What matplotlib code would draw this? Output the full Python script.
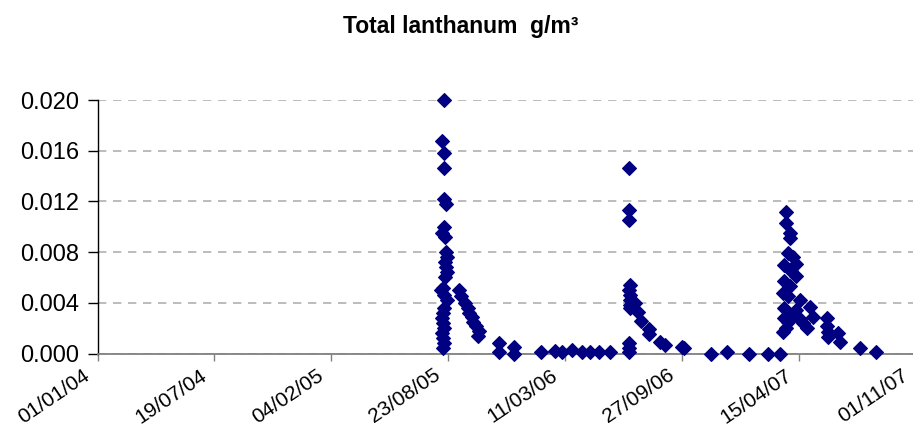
import numpy as np
import pandas as pd
import matplotlib
matplotlib.use('Agg')
import matplotlib.pyplot as plt
import matplotlib.dates as mdates
from matplotlib.transforms import ScaledTranslation, blended_transform_factory

plt.rcParams['font.family'] = ['Liberation Sans', 'DejaVu Sans']

# sample dates and total lanthanum (g/m3)
dates = [
    # first event, aug-oct 2005
    '2005-08-16', '2005-08-13', '2005-08-16', '2005-08-16', '2005-08-16', '2005-08-19',
    '2005-08-16', '2005-08-13', '2005-08-17', '2005-08-19', '2005-08-21', '2005-08-17',
    '2005-08-19', '2005-08-21', '2005-08-17', '2005-08-14', '2005-08-11', '2005-08-16',
    '2005-08-21', '2005-08-16', '2005-08-14', '2005-08-13', '2005-08-14', '2005-08-16',
    '2005-08-13', '2005-08-14', '2005-08-16', '2005-08-14',
    '2005-09-11', '2005-09-14', '2005-09-21', '2005-09-25', '2005-09-28', '2005-10-02',
    '2005-10-05', '2005-10-10', '2005-10-14', '2005-10-12',
    '2005-11-18', '2005-11-18', '2005-12-14', '2005-12-14',
    # quiet period
    '2006-01-29', '2006-02-21', '2006-03-05', '2006-03-22', '2006-04-08', '2006-04-22',
    '2006-05-07', '2006-05-27',
    # second event, summer 2006
    '2006-06-28', '2006-06-28', '2006-06-28', '2006-06-29', '2006-06-28', '2006-06-29',
    '2006-06-30', '2006-06-29', '2006-06-30', '2006-07-08', '2006-07-13', '2006-07-19',
    '2006-08-02', '2006-08-02', '2006-08-20', '2006-08-28', '2006-09-26', '2006-10-01',
    '2006-06-28', '2006-06-28', '2006-06-28',
    '2006-11-16', '2006-12-13', '2007-01-20', '2007-02-21', '2007-03-14',
    # third event, spring 2007
    '2007-03-24', '2007-03-24', '2007-03-30', '2007-03-30', '2007-03-27', '2007-04-04',
    '2007-03-21', '2007-04-10', '2007-04-02', '2007-04-10', '2007-03-21', '2007-03-30',
    '2007-03-18', '2007-03-27', '2007-04-16', '2007-05-03', '2007-03-21', '2007-04-10',
    '2007-05-08', '2007-03-21', '2007-04-21', '2007-03-24', '2007-04-28', '2007-03-18',
    '2007-04-04', '2007-04-16', '2007-03-27',
    '2007-06-01', '2007-06-01', '2007-06-03', '2007-06-03', '2007-06-20', '2007-06-24',
    '2007-07-28', '2007-08-25',
]
la_values = [
    0.0200, 0.0168, 0.0158, 0.0146, 0.0122, 0.0118,
    0.0100, 0.0095, 0.0092, 0.0080, 0.0076, 0.0072,
    0.0068, 0.0064, 0.0060, 0.0052, 0.0050, 0.0046,
    0.0042, 0.0036, 0.0032, 0.0028, 0.0024, 0.0020,
    0.0016, 0.0012, 0.0008, 0.0004,
    0.0050, 0.0045, 0.0040, 0.0036, 0.0032, 0.0029,
    0.0025, 0.0022, 0.0018, 0.0014,
    0.0008, 0.0001, 0.0005, 0.0000,
    0.0001, 0.0002, 0.0001, 0.0003, 0.0001, 0.0001,
    0.0001, 0.0001,
    0.0146, 0.0113, 0.0105, 0.0054, 0.0050, 0.0046,
    0.0042, 0.0038, 0.0036, 0.0040, 0.0033, 0.0026,
    0.0019, 0.0015, 0.0009, 0.0007, 0.0005, 0.0004,
    0.0008, 0.0004, 0.0001,
    0.0000, 0.0001, 0.0000, 0.0000, 0.0000,
    0.0112, 0.0103, 0.0095, 0.0091, 0.0079, 0.0076,
    0.0070, 0.0071, 0.0065, 0.0061, 0.0057, 0.0053,
    0.0048, 0.0045, 0.0042, 0.0037, 0.0036, 0.0034,
    0.0029, 0.0028, 0.0024, 0.0020, 0.0020, 0.0017,
    0.0031, 0.0027, 0.0025,
    0.0028, 0.0022, 0.0017, 0.0013, 0.0016, 0.0009,
    0.0004, 0.0001,
]

x_start = '2004-01-01'
x_step_days = 200
n_steps = 7
y_ticks = [0.000, 0.004, 0.008, 0.012, 0.016, 0.020]

df = pd.DataFrame({'date': pd.to_datetime(dates), 'la': la_values})

fig = plt.figure(figsize=(9.13, 4.36), dpi=100)
# plot area runs a little past the right edge of the picture, like the original
ax = fig.add_axes([0.1068, 0.1892, 0.8965, 0.5814])

ax.plot(df['date'], df['la'], linestyle='none', marker='D', markersize=7,
        color='#000080', markeredgecolor='#000080', markeredgewidth=0.8,
        zorder=3, clip_on=False)

t0 = mdates.date2num(pd.Timestamp(x_start))
xt = t0 + np.arange(n_steps + 1) * x_step_days
ax.set_xlim(xt[0], xt[-1])
ax.set_xticks(xt)
ax.tick_params(axis='x', labelbottom=False)

# date labels drawn by hand so they can sit a bit left of their ticks
fmt = mdates.DateFormatter('%d/%m/%y')
trans = blended_transform_factory(ax.transData, ax.transAxes) + \
    ScaledTranslation(-15 / 100, -12 / 100, fig.dpi_scale_trans)
for t in xt:
    ax.text(t, 0, fmt(t), transform=trans, rotation=34, ha='right', va='top',
            rotation_mode='anchor', fontsize=15, clip_on=False)

ax.set_ylim(0, 0.020)
ax.set_yticks(y_ticks)
ax.set_yticklabels([f'{v:.3f}' for v in y_ticks], fontsize=17)

ax.yaxis.grid(True, color='#b0b0b0', linestyle=(0, (5, 4)), linewidth=1.2)
ax.set_axisbelow(True)

for side in ['top', 'right']:
    ax.spines[side].set_visible(False)
ax.spines['left'].set_color('#000000')
ax.spines['bottom'].set_color('#808080')
ax.spines['left'].set_linewidth(1.0)
ax.spines['bottom'].set_linewidth(1.3)
ax.tick_params(axis='y', direction='out', length=7, width=1, pad=6)
ax.tick_params(axis='x', direction='out', length=5, width=1, color='#808080')

fig.text(0.505, 0.924, 'Total lanthanum  g/m\u00b3', ha='center', va='baseline',
         fontsize=16.5, fontweight='bold')

plt.savefig('out.png', dpi=100)
